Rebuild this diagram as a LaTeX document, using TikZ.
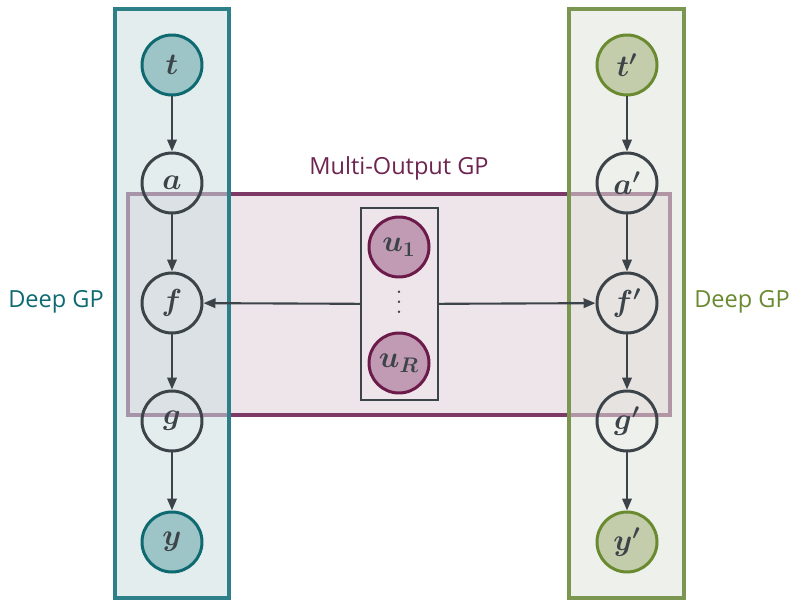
\documentclass[tikz,border=0pt]{standalone}
\usepackage{fontspec}
\setsansfont{Open Sans}
\usepackage{amsmath}
\usetikzlibrary{arrows.meta}

\definecolor{tealline}{HTML}{2E8088}
\definecolor{tealdark}{HTML}{0E6A70}
\definecolor{tealnode}{HTML}{9DC4C7}
\definecolor{tealback}{RGB}{205,222,224}
\definecolor{greenline}{HTML}{7B9650}
\definecolor{greendark}{HTML}{6A8A30}
\definecolor{greennode}{HTML}{C4CDAB}
\definecolor{greenback}{RGB}{224,227,218}
\definecolor{plumline}{HTML}{7D3A67}
\definecolor{plumback}{HTML}{EEE5EB}
\definecolor{plumnode}{HTML}{C19AB3}
\definecolor{plumdark}{HTML}{6B1A4A}
\definecolor{plumtext}{HTML}{6E2450}
\definecolor{inkgray}{HTML}{3C4449}

\tikzset{
  latent/.style={circle, draw=inkgray, line width=1.7pt, minimum size=1.2cm, inner sep=0pt,
    text=inkgray, font=\fontsize{18}{20}\selectfont\boldmath},
  tealobs/.style={latent, draw=tealdark, fill=tealnode},
  greenobs/.style={latent, draw=greendark, fill=greennode},
  plumobs/.style={latent, draw=plumdark, fill=plumnode},
  leftcol/.style={draw=tealline, line width=2.3pt, fill=tealback, fill opacity=0.55},
  rightcol/.style={draw=greenline, line width=2.3pt, fill=greenback, fill opacity=0.55},
  mobox/.style={draw=plumline, line width=2.3pt, fill=plumback},
  ubox/.style={draw=inkgray, line width=1.1pt, minimum width=1.54cm, minimum height=3.84cm, inner sep=0pt},
  edge/.style={-{Triangle[length=2.4mm, width=1.9mm]}, draw=inkgray, line width=1.2pt},
  gplabel/.style={font=\sffamily\fontsize{13.4}{16}\selectfont}
}

\begin{document}
\begin{tikzpicture}
	\useasboundingbox (0,0) rectangle (15.88,12);
	\draw[mobox] (2.56,3.70) rectangle (13.40,8.12);
	\draw[leftcol] (2.30,0.04) rectangle (4.58,11.82);
	\draw[rightcol] (11.38,0.04) rectangle (13.68,11.82);
	\node[gplabel, text=plumtext] (molabel) at (7.98,8.64) {Multi-Output GP};
	\node[gplabel, text=tealdark] (leftlabel) at (1.12,5.96) {Deep GP};
	\node[gplabel, text=greendark] (rightlabel) at (14.84,5.96) {Deep GP};
	\node[tealobs] (t) at (3.44,10.70) {$t$};
	\node[latent] (a) at (3.44,8.34) {$a$};
	\node[latent] (f) at (3.44,5.94) {$f$};
	\node[latent] (g) at (3.44,3.58) {$g$};
	\node[tealobs] (y) at (3.44,1.16) {$y$};
	\node[greenobs] (tp) at (12.54,10.70) {$t'$};
	\node[latent] (ap) at (12.54,8.34) {$a'$};
	\node[latent] (fp) at (12.54,5.94) {$f'$};
	\node[latent] (gp) at (12.54,3.58) {$g'$};
	\node[greenobs] (yp) at (12.54,1.16) {$y'$};
	\node[ubox] (U) at (7.99,5.92) {};
	\node[plumobs] (u1) at (7.98,7.06) {$u_1$};
	\node[text=inkgray, font=\fontsize{17}{19}\selectfont, inner sep=0pt] (dots) at (7.98,5.96) {\shortstack{.\\[1.4pt].\\[1.4pt].}};
	\node[plumobs] (uR) at (7.98,4.74) {$u_R$};
	\draw[edge] (t) -- (a);
	\draw[edge] (a) -- (f);
	\draw[edge] (f) -- (g);
	\draw[edge] (g) -- (y);
	\draw[edge] (tp) -- (ap);
	\draw[edge] (ap) -- (fp);
	\draw[edge] (fp) -- (gp);
	\draw[edge] (gp) -- (yp);
	\draw[edge] (U) -- (f);
	\draw[edge] (U) -- (fp);
\end{tikzpicture}
\end{document}
